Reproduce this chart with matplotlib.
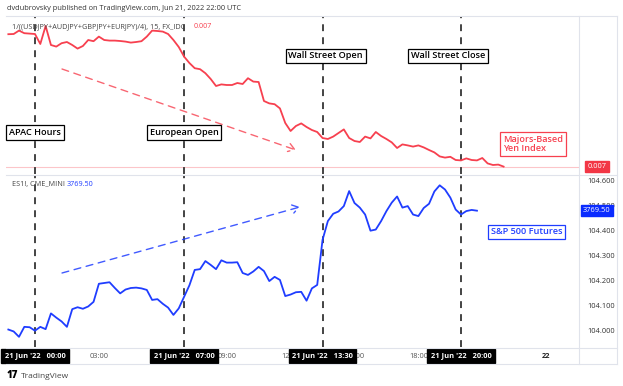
import numpy as np
import pandas as pd
import matplotlib
matplotlib.use("Agg")
import matplotlib.pyplot as plt
from matplotlib.lines import Line2D

plt.rcParams['font.family'] = ['Open Sans', 'DejaVu Sans']

# ---------------- data ----------------
# 15-minute bars starting 2022-06-20 22:45 UTC
start_time = "2022-06-20 22:45"
base_time = "2022-06-21 00:00"

# 1/((USDJPY+AUDJPY+GBPJPY+EURJPY)/4)  (in units of 1e-6)
yen_index_micro = [
    7432.9, 7433.0, 7434.7, 7433.4, 7433.2, 7433.0, 7428.0, 7437.0, 7427.5, 7426.7,
    7428.4, 7429.0, 7427.5, 7425.7, 7427.0, 7430.0, 7429.4, 7431.7, 7430.0, 7429.7,
    7429.7, 7429.5, 7429.2, 7428.7, 7429.0, 7429.4, 7431.7, 7434.7, 7434.5, 7434.2,
    7433.0, 7430.0, 7426.5, 7421.7, 7418.5, 7415.9, 7415.4, 7413.4, 7410.5, 7407.0,
    7407.8, 7407.5, 7407.5, 7408.5, 7408.0, 7410.9, 7409.2, 7409.0, 7399.5, 7398.3,
    7397.9, 7395.8, 7388.5, 7384.5, 7387.0, 7388.3, 7386.5, 7385.0, 7384.0, 7381.0,
    7380.5, 7381.7, 7383.5, 7385.3, 7381.0, 7379.5, 7379.0, 7381.7, 7380.8, 7384.0,
    7382.0, 7380.5, 7378.8, 7376.0, 7377.8, 7377.3, 7376.7, 7377.3, 7376.3, 7375.0,
    7373.8, 7371.8, 7371.2, 7371.6, 7370.0, 7369.8, 7370.8, 7370.0, 7369.8, 7371.0,
    7368.3, 7367.5, 7367.7, 7366.7,
]

# ES1! (S&P 500 E-mini futures)
es_futures = [
    3692.25, 3691.0, 3687.5, 3694.0, 3693.75, 3691.5, 3694.0, 3692.5, 3702.75, 3700.0,
    3697.5, 3694.0, 3705.5, 3706.75, 3705.75, 3707.25, 3710.25, 3722.0, 3722.5, 3723.0,
    3719.25, 3715.75, 3718.25, 3719.25, 3719.5, 3719.0, 3718.0, 3711.5, 3712.0, 3709.0,
    3706.5, 3701.75, 3706.0, 3713.5, 3721.0, 3731.0, 3731.5, 3736.75, 3734.25, 3731.5,
    3737.25, 3735.75, 3735.75, 3736.0, 3729.0, 3727.75, 3730.0, 3733.0, 3730.25, 3723.75,
    3726.5, 3724.5, 3714.0, 3715.0, 3716.5, 3716.75, 3711.0, 3719.0, 3721.25, 3750.5,
    3762.75, 3767.5, 3769.0, 3772.5, 3782.25, 3774.5, 3771.5, 3767.0, 3756.5, 3757.25,
    3762.75, 3769.25, 3774.75, 3778.75, 3771.5, 3772.5, 3767.0, 3766.0, 3771.25, 3774.0,
    3782.0, 3786.0, 3783.25, 3778.0, 3770.25, 3767.0, 3769.25, 3770.0, 3769.5,
]

session_times = ["2022-06-21 00:00", "2022-06-21 07:00", "2022-06-21 13:30", "2022-06-21 20:00"]
session_names = ["APAC Hours", "European Open", "Wall Street Open", "Wall Street Close"]
session_box_labels = ["21 Jun '22   00:00", "21 Jun '22   07:00", "21 Jun '22   13:30", "21 Jun '22   20:00"]

time_tick_hours = [3, 9, 12, 15, 18, 24]
time_tick_labels = ["03:00", "09:00", "12:00", "15:00", "18:00", "22"]

price_tick_labels = ["104.000", "104.100", "104.200", "104.300", "104.400", "104.500", "104.600"]

# ---------------- derived ----------------
base = pd.Timestamp(base_time)
t_red = pd.date_range(start_time, periods=len(yen_index_micro), freq="15min")
t_blue = pd.date_range(start_time, periods=len(es_futures), freq="15min")
h_red = (t_red - base).total_seconds() / 3600.0
h_blue = (t_blue - base).total_seconds() / 3600.0
red_vals = np.array(yen_index_micro) * 1e-6
blue_vals = np.array(es_futures)
sess_h = [(pd.Timestamp(s) - base).total_seconds() / 3600.0 for s in session_times]

RED = "#f7404f"
BLUE = "#1f3dff"
GRID = "#e0e3eb"

W, H = 623, 386
fig = plt.figure(figsize=(W / 100, H / 100), dpi=100)
fig.patch.set_facecolor("white")


def px(x0, y0, x1, y1):
    return [x0 / W, 1 - y1 / H, (x1 - x0) / W, (y1 - y0) / H]


ax1 = fig.add_axes(px(6, 16, 579, 174))
ax2 = fig.add_axes(px(6, 175, 579, 347))

xlim = (-1.36, 25.54)
for ax in (ax1, ax2):
    ax.set_xlim(*xlim)
    for s in ax.spines.values():
        s.set_visible(False)
    ax.set_facecolor("none")

ax1.set_ylim(7363e-6, 7442e-6)
ax2.set_ylim(3680.9, 3792.7)

# lines
ax1.plot(h_red, red_vals, color=RED, lw=1.3, zorder=4)
ax1.axhline(red_vals[-1], color=RED, lw=0.8, alpha=0.3, zorder=1)
ax2.plot(h_blue, blue_vals, color=BLUE, lw=1.3, zorder=4)

# session vertical lines
for h in sess_h:
    for ax in (ax1, ax2):
        ax.axvline(h, color="#111111", lw=1.1, linestyle=(0, (4.5, 4)), zorder=3)

# session labels (top pane)
label_pos = [(sess_h[0], 0.26), (sess_h[1], 0.26), (sess_h[2] + 0.15, 0.747), (sess_h[3] - 0.6, 0.747)]
for (hx, fy), name in zip(label_pos, session_names):
    ax1.text(hx, fy, name, transform=ax1.get_xaxis_transform(), ha="center", va="center",
             fontsize=6.6, color="black", fontweight="semibold", zorder=6,
             bbox=dict(boxstyle="square,pad=0.32", fc="white", ec="black", lw=0.9))

# dashed arrows
ax1.annotate("", xy=(12.25, 7375.0e-6), xytext=(1.27, 7415.5e-6),
             arrowprops=dict(arrowstyle="->,head_length=0.45,head_width=0.3", color=RED, lw=1.0,
                             alpha=0.8, linestyle=(0, (5, 4)), shrinkA=0, shrinkB=0), zorder=5)
ax2.annotate("", xy=(12.44, 3771.9), xytext=(1.27, 3729.0),
             arrowprops=dict(arrowstyle="->,head_length=0.45,head_width=0.3", color=BLUE, lw=1.0,
                             alpha=0.85, linestyle=(0, (5, 4)), shrinkA=0, shrinkB=0), zorder=5)

# series name boxes
ax1.text(21.97, 0.19, "Majors-Based\nYen Index", transform=ax1.get_xaxis_transform(),
         ha="left", va="center", fontsize=6.6, color=RED, fontweight="semibold", linespacing=1.0, zorder=6,
         bbox=dict(boxstyle="square,pad=0.3", fc="white", ec=RED, lw=0.9))
ax2.text(21.41, 0.669, "S&P 500 Futures", transform=ax2.get_xaxis_transform(),
         ha="left", va="center", fontsize=6.6, color=BLUE, fontweight="semibold", zorder=6,
         bbox=dict(boxstyle="square,pad=0.3", fc="white", ec=BLUE, lw=0.9))

# right price axis (bottom pane)
price_ticks = [float(p) for p in price_tick_labels]
es_at_top_tick = 3788.8
es_per_unit = 162.5
tick_pos = [es_at_top_tick - (price_ticks[-1] - p) * es_per_unit for p in price_ticks]
ax2.yaxis.tick_right()
ax2.set_yticks(tick_pos)
ax2.set_yticklabels(price_tick_labels)
ax2.tick_params(axis="y", length=0, pad=6, labelsize=5.4, labelcolor="#333333")
ax1.set_yticks([])

# last value labels
ax1.annotate(f"{red_vals[-1]:.3f}", xy=(1, red_vals[-1]), xycoords=ax1.get_yaxis_transform(),
             xytext=(18, 0), textcoords="offset pixels", ha="center", va="center",
             fontsize=5.4, color="white", annotation_clip=False, zorder=10,
             bbox=dict(boxstyle="square,pad=0.3", fc="#f23645", ec="#f23645"))
ax2.annotate(f"{blue_vals[-1]:.2f}", xy=(1, blue_vals[-1]), xycoords=ax2.get_yaxis_transform(),
             xytext=(18, 0), textcoords="offset pixels", ha="center", va="center",
             fontsize=5.4, color="white", annotation_clip=False, zorder=10,
             bbox=dict(boxstyle="square,pad=0.3", fc="#0a2bff", ec="#0a2bff"))

# time axis
ax1.set_xticks([])
ax2.set_xticks(time_tick_hours)
ax2.set_xticklabels(time_tick_labels)
ax2.tick_params(axis="x", length=0, pad=4, labelsize=5.4, labelcolor="#555555")
ax2.get_xticklabels()[-1].set_fontweight("bold")
ax2.get_xticklabels()[-1].set_color("#222222")
for h, lab in zip(sess_h, session_box_labels):
    ax2.annotate(lab, xy=(h, 0), xycoords=ax2.get_xaxis_transform(), xytext=(0, -9),
                 textcoords="offset pixels", ha="center", va="center", fontsize=5.4,
                 color="white", fontweight="bold", annotation_clip=False, zorder=10,
                 bbox=dict(boxstyle="square,pad=0.45", fc="black", ec="black"))

# pane headers
ax1.text(0.011, 0.935, "1/((USDJPY+AUDJPY+GBPJPY+EURJPY)/4), 15, FX_IDC", transform=ax1.transAxes,
         fontsize=5.2, color="#444444", va="center", ha="left", zorder=7)
ax1.text(0.327, 0.935, f"{red_vals[-1]:.3f}", transform=ax1.transAxes,
         fontsize=5.2, color=RED, va="center", ha="left", zorder=7)
ax2.text(0.011, 0.942, "ES1!, CME_MINI", transform=ax2.transAxes,
         fontsize=5.2, color="#444444", va="center", ha="left", zorder=7)
ax2.text(0.106, 0.942, f"{blue_vals[-1]:.2f}", transform=ax2.transAxes,
         fontsize=5.2, color=BLUE, va="center", ha="left", zorder=7)

# frame lines
def fline(x0, y0, x1, y1):
    fig.add_artist(Line2D([x0 / W, x1 / W], [1 - y0 / H, 1 - y1 / H], color=GRID, lw=0.8))

fline(6, 16, 617, 16)
fline(6, 174.5, 617, 174.5)
fline(6, 347.5, 617, 347.5)
fline(6, 363.5, 617, 363.5)
fline(579, 16, 579, 363.5)
fline(617, 16, 617, 363.5)

# header and footer
fig.text(7 / W, 1 - 9 / H, "dvdubrovsky published on TradingView.com, Jun 21, 2022 22:00 UTC",
         fontsize=5.3, color="#333333", va="center", ha="left")
fig.text(7 / W, 1 - 376 / H, "17", fontsize=7, fontweight="heavy", color="black", va="center", ha="left")
fig.text(21 / W, 1 - 376 / H, "TradingView", fontsize=6, color="#444444", va="center", ha="left")

fig.savefig("out.png", dpi=100, facecolor="white")
